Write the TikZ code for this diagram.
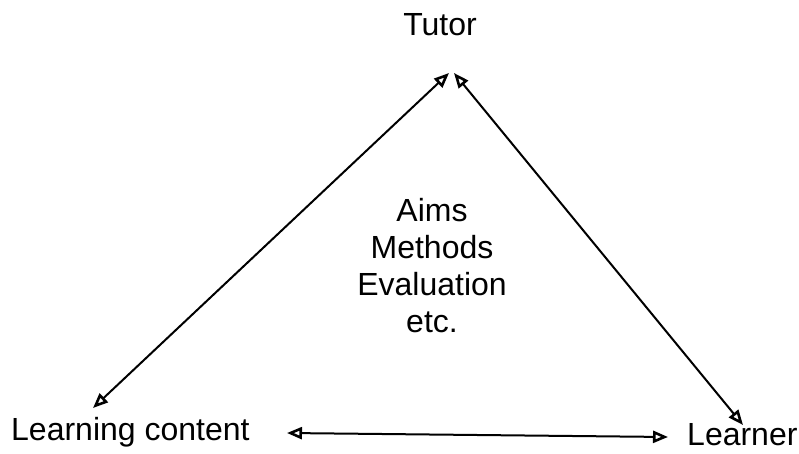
\documentclass[tikz,border=0pt]{standalone}
\usepackage{fontspec}
\setmainfont{Liberation Sans}
\usepackage{tikz}
\usetikzlibrary{arrows.meta,positioning}
\tikzset{
  label/.style={inner sep=0pt,font=\fontsize{32}{37}\selectfont},
  tip/.style={Triangle[open,length=15pt,width=12pt,line width=2.6pt]},
  link/.style={line width=2pt,{Triangle[open,length=15pt,width=12pt,line width=2.6pt]}-{Triangle[open,length=15pt,width=12pt,line width=2.6pt]}}
}

\begin{document}
\begin{tikzpicture}[x=1pt,y=-1pt]
  \useasboundingbox (0,0) rectangle (799,454);
  \node[label,anchor=base] (tutor) at (440,36) {Tutor};
  \node[label,anchor=base west] (content) at (11,440) {Learning content};
  \node[label,anchor=base west] (learner) at (687,445) {Learner};
  \node[label,align=center,anchor=base] (aims) at (432,332)
    {Aims\\Methods\\Evaluation\\etc.};
  % arrow ends
  \coordinate (tutorL) at (449,73);
  \coordinate (tutorR) at (454,73);
  \coordinate (contentT) at (93,408);
  \coordinate (contentR) at (287,433);
  \coordinate (learnerT) at (743,425);
  \coordinate (learnerL) at (668,437);
  \draw[link] (tutorL) -- (contentT);
  \draw[link] (tutorR) -- (learnerT);
  \draw[link] (contentR) -- (learnerL);
\end{tikzpicture}
\end{document}
